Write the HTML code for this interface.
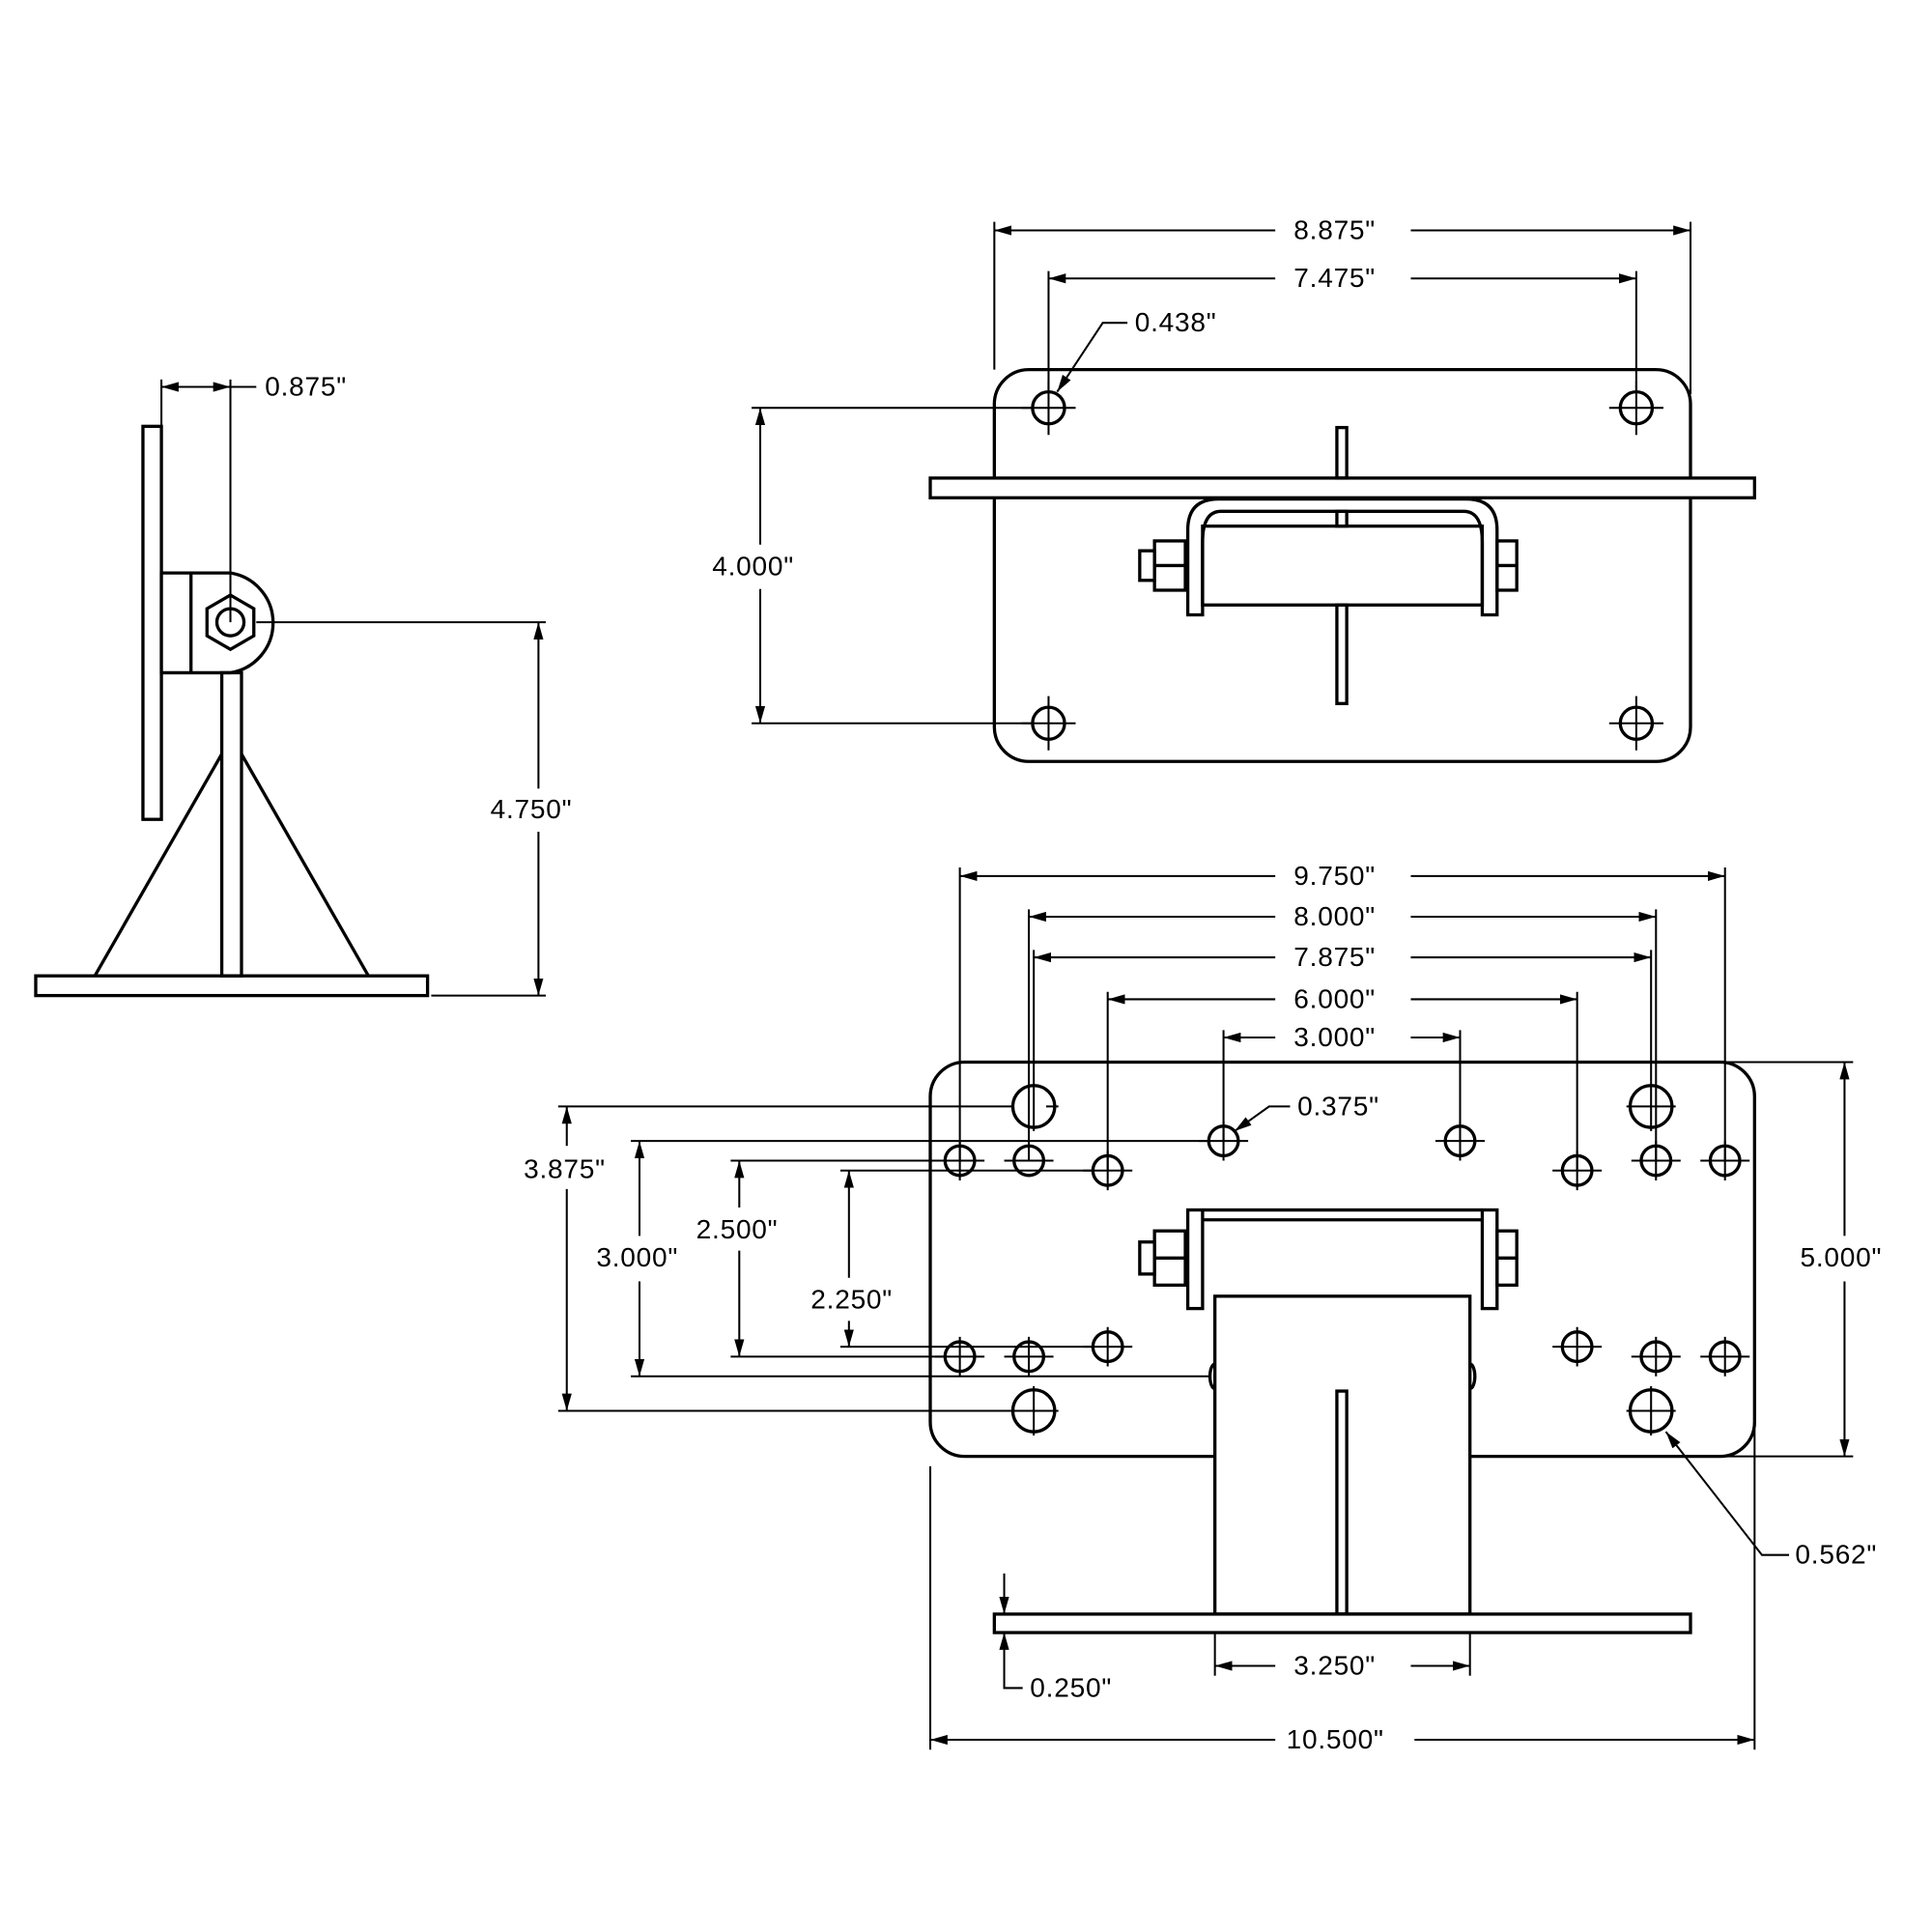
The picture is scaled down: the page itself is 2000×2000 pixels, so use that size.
<!DOCTYPE html>
<html><head><style>
html,body{margin:0;padding:0;background:#fff;}
svg{display:block;}
text{font-family:"Liberation Sans",sans-serif;font-size:22px;letter-spacing:0.6px;fill:#000;}
</style></head><body>
<svg width="2000" height="2000" viewBox="0 0 1568 1568" xmlns="http://www.w3.org/2000/svg">
<defs>
<marker id="a" viewBox="0 0 14 8" refX="14" refY="4" markerWidth="14" markerHeight="8" markerUnits="userSpaceOnUse" orient="auto-start-reverse"><path d="M0,0 L14,4 L0,8 z" fill="#000"/></marker>
</defs>
<g fill="none" stroke="#000" stroke-width="2.6">
<!-- SIDE VIEW -->
<rect x="116" y="346" width="15" height="319" fill="#fff"/>
<path d="M131,465 H187 A41,41 0 0 1 187,546 H131 Z" fill="#fff"/>
<line x1="155" y1="465" x2="155" y2="546"/>
<polygon points="187,483 206,494 206,516 187,527 168,516 168,494"/>
<circle cx="187" cy="505" r="11"/>
<rect x="180" y="546" width="16" height="246"/>
<line x1="180" y1="612" x2="77" y2="792"/>
<line x1="196" y1="612" x2="299" y2="792"/>
<rect x="29" y="792" width="318" height="16"/>
<g stroke-width="1.6">
<line x1="131" y1="308" x2="131" y2="346"/>
<line x1="187" y1="308" x2="187" y2="505"/>
<line x1="131" y1="314" x2="187" y2="314" marker-start="url(#a)" marker-end="url(#a)"/>
<line x1="187" y1="314" x2="208" y2="314"/>
<line x1="208" y1="505" x2="443" y2="505"/>
<line x1="350" y1="808" x2="443" y2="808"/>
<line x1="437" y1="505" x2="437" y2="640" marker-start="url(#a)"/>
<line x1="437" y1="675" x2="437" y2="808" marker-end="url(#a)"/>
</g>

<!-- TOP VIEW -->
<rect x="807" y="300" width="565" height="318" rx="28"/>
<rect x="755" y="388" width="669" height="16" fill="#fff"/>
<rect x="1085" y="347" width="8" height="41"/>
<rect x="1085" y="491" width="8" height="80"/>
<path d="M964,499 V430 Q964,405 989,405 H1190 Q1215,405 1215,430 V499 H1203 V440 Q1203,415 1188,415 H991 Q976,415 976,440 V499 Z" fill="#fff"/>
<rect x="976" y="427" width="227" height="64"/>
<rect x="1085" y="415" width="8" height="12"/>
<rect x="937" y="439" width="25" height="40"/><line x1="937" y1="459" x2="962" y2="459"/>
<rect x="925" y="447" width="12" height="24"/>
<rect x="1215" y="439" width="16" height="40"/><line x1="1215" y1="459" x2="1231" y2="459"/>
<g>
<circle cx="851" cy="331" r="13"/><circle cx="1328" cy="331" r="13"/>
<circle cx="851" cy="587" r="13"/><circle cx="1328" cy="587" r="13"/>
</g>
<g stroke-width="1.6">
<path d="M829,331h44 M851,309v44 M1306,331h44 M1328,309v44 M829,587h44 M851,565v44 M1306,587h44 M1328,565v44"/>
<line x1="807" y1="180" x2="807" y2="300"/><line x1="1372" y1="180" x2="1372" y2="320"/>
<line x1="851" y1="220" x2="851" y2="318"/><line x1="1328" y1="220" x2="1328" y2="318"/>
<line x1="807" y1="187" x2="1035" y2="187" marker-start="url(#a)"/><line x1="1145" y1="187" x2="1372" y2="187" marker-end="url(#a)"/>
<line x1="851" y1="226" x2="1035" y2="226" marker-start="url(#a)"/><line x1="1145" y1="226" x2="1328" y2="226" marker-end="url(#a)"/>
<polyline points="915,262 895,262 858,318" marker-end="url(#a)"/>
<line x1="610" y1="331" x2="838" y2="331"/><line x1="610" y1="587" x2="838" y2="587"/>
<line x1="617" y1="331" x2="617" y2="442" marker-start="url(#a)"/><line x1="617" y1="478" x2="617" y2="587" marker-end="url(#a)"/>
</g>

<!-- BOTTOM VIEW -->
<rect x="755" y="862" width="669" height="320" rx="28"/>
<rect x="964" y="982" width="12" height="80"/><rect x="1203" y="982" width="12" height="80"/>
<line x1="976" y1="982" x2="1203" y2="982"/><line x1="976" y1="990" x2="1203" y2="990"/>
<rect x="937" y="999" width="25" height="44"/><line x1="937" y1="1021" x2="962" y2="1021"/>
<rect x="925" y="1008" width="12" height="26"/>
<rect x="1215" y="999" width="16" height="44"/><line x1="1215" y1="1021" x2="1231" y2="1021"/>
<ellipse cx="986" cy="1117" rx="4" ry="10"/><ellipse cx="1193" cy="1117" rx="4" ry="10"/>
<rect x="986" y="1052" width="207" height="258" fill="#fff"/>
<rect x="1085" y="1129" width="8" height="181"/>
<rect x="807" y="1310" width="565" height="15" fill="#fff"/>
<g>
<circle cx="839" cy="898" r="17"/><circle cx="1340" cy="898" r="17"/>
<circle cx="839" cy="1145" r="17"/><circle cx="1340" cy="1145" r="17"/>
<circle cx="779" cy="942" r="12"/><circle cx="835" cy="942" r="12"/><circle cx="1344" cy="942" r="12"/><circle cx="1400" cy="942" r="12"/>
<circle cx="899" cy="950" r="12"/><circle cx="1280" cy="950" r="12"/>
<circle cx="993" cy="926" r="12"/><circle cx="1185" cy="926" r="12"/>
<circle cx="779" cy="1101" r="12"/><circle cx="835" cy="1101" r="12"/><circle cx="1344" cy="1101" r="12"/><circle cx="1400" cy="1101" r="12"/>
<circle cx="899" cy="1093" r="12"/><circle cx="1280" cy="1093" r="12"/>
</g>
<g stroke-width="1.6">
<path d="M859,898h-10 M1320,898h40 M1340,878v40 M819,1145h40 M839,1125v40 M1320,1145h40 M1340,1125v40"/>
<path d="M759,942h40 M779,926v32 M815,942h40 M1324,942h40 M1344,926v32 M1380,942h40 M1400,926v32 M879,950h40 M899,934v32 M1260,950h40 M1280,934v32 M973,926h40 M993,910v32 M1165,926h40 M1185,910v32 M759,1101h40 M779,1085v32 M815,1101h40 M835,1085v32 M1324,1101h40 M1344,1085v32 M1380,1101h40 M1400,1085v32 M879,1093h40 M899,1077v32 M1260,1093h40 M1280,1077v32"/>
<line x1="779" y1="704" x2="779" y2="942"/><line x1="1400" y1="704" x2="1400" y2="942"/>
<line x1="835" y1="738" x2="835" y2="942"/><line x1="1344" y1="738" x2="1344" y2="942"/>
<line x1="839" y1="771" x2="839" y2="918"/><line x1="1340" y1="771" x2="1340" y2="878"/>
<line x1="899" y1="805" x2="899" y2="950"/><line x1="1280" y1="805" x2="1280" y2="950"/>
<line x1="993" y1="836" x2="993" y2="926"/><line x1="1185" y1="836" x2="1185" y2="926"/>
<line x1="779" y1="711" x2="1035" y2="711" marker-start="url(#a)"/><line x1="1145" y1="711" x2="1400" y2="711" marker-end="url(#a)"/>
<line x1="835" y1="744" x2="1035" y2="744" marker-start="url(#a)"/><line x1="1145" y1="744" x2="1344" y2="744" marker-end="url(#a)"/>
<line x1="839" y1="777" x2="1035" y2="777" marker-start="url(#a)"/><line x1="1145" y1="777" x2="1340" y2="777" marker-end="url(#a)"/>
<line x1="899" y1="811" x2="1035" y2="811" marker-start="url(#a)"/><line x1="1145" y1="811" x2="1280" y2="811" marker-end="url(#a)"/>
<line x1="993" y1="842" x2="1035" y2="842" marker-start="url(#a)"/><line x1="1145" y1="842" x2="1185" y2="842" marker-end="url(#a)"/>
<polyline points="1047,898 1030,898 1002,918" marker-end="url(#a)"/>
<line x1="1400" y1="862" x2="1504" y2="862"/><line x1="1365" y1="1182" x2="1504" y2="1182"/>
<line x1="1497" y1="862" x2="1497" y2="1003" marker-start="url(#a)"/><line x1="1497" y1="1040" x2="1497" y2="1182" marker-end="url(#a)"/>
<line x1="453" y1="898" x2="822" y2="898"/><line x1="453" y1="1145" x2="822" y2="1145"/>
<line x1="460" y1="898" x2="460" y2="930" marker-start="url(#a)"/><line x1="460" y1="965" x2="460" y2="1145" marker-end="url(#a)"/>
<line x1="512" y1="926" x2="980" y2="926"/><line x1="512" y1="1117" x2="982" y2="1117"/>
<line x1="519" y1="926" x2="519" y2="1003" marker-start="url(#a)"/><line x1="519" y1="1040" x2="519" y2="1117" marker-end="url(#a)"/>
<line x1="593" y1="942" x2="767" y2="942"/><line x1="593" y1="1101" x2="767" y2="1101"/>
<line x1="600" y1="942" x2="600" y2="980" marker-start="url(#a)"/><line x1="600" y1="1015" x2="600" y2="1101" marker-end="url(#a)"/>
<line x1="682" y1="950" x2="887" y2="950"/><line x1="682" y1="1093" x2="887" y2="1093"/>
<line x1="689" y1="950" x2="689" y2="1037" marker-start="url(#a)"/><line x1="689" y1="1072" x2="689" y2="1093" marker-end="url(#a)"/>
<line x1="755" y1="1190" x2="755" y2="1420"/><line x1="1424" y1="1160" x2="1424" y2="1420"/>
<line x1="755" y1="1412" x2="1035" y2="1412" marker-start="url(#a)"/><line x1="1148" y1="1412" x2="1424" y2="1412" marker-end="url(#a)"/>
<line x1="986" y1="1325" x2="986" y2="1360"/><line x1="1193" y1="1325" x2="1193" y2="1360"/>
<line x1="986" y1="1352" x2="1035" y2="1352" marker-start="url(#a)"/><line x1="1145" y1="1352" x2="1193" y2="1352" marker-end="url(#a)"/>
<line x1="815" y1="1277" x2="815" y2="1310" marker-end="url(#a)"/>
<polyline points="830,1370 815,1370 815,1325" marker-end="url(#a)"/>
<polyline points="1452,1262 1430,1262 1352,1162" marker-end="url(#a)"/>
</g>
</g>
<g>
<text x="215" y="321">0.875"</text>
<text x="398" y="664">4.750"</text>
<text x="1050" y="194">8.875"</text>
<text x="1050" y="233">7.475"</text>
<text x="921" y="269">0.438"</text>
<text x="578" y="467">4.000"</text>
<text x="1050" y="718">9.750"</text>
<text x="1050" y="751">8.000"</text>
<text x="1050" y="784">7.875"</text>
<text x="1050" y="818">6.000"</text>
<text x="1050" y="849">3.000"</text>
<text x="1053" y="905">0.375"</text>
<text x="425" y="956">3.875"</text>
<text x="484" y="1028">3.000"</text>
<text x="565" y="1005">2.500"</text>
<text x="658" y="1062">2.250"</text>
<text x="1461" y="1028">5.000"</text>
<text x="1050" y="1359">3.250"</text>
<text x="836" y="1377">0.250"</text>
<text x="1457" y="1269">0.562"</text>
<text x="1044" y="1419">10.500"</text>
</g>
</svg>
</body></html>
